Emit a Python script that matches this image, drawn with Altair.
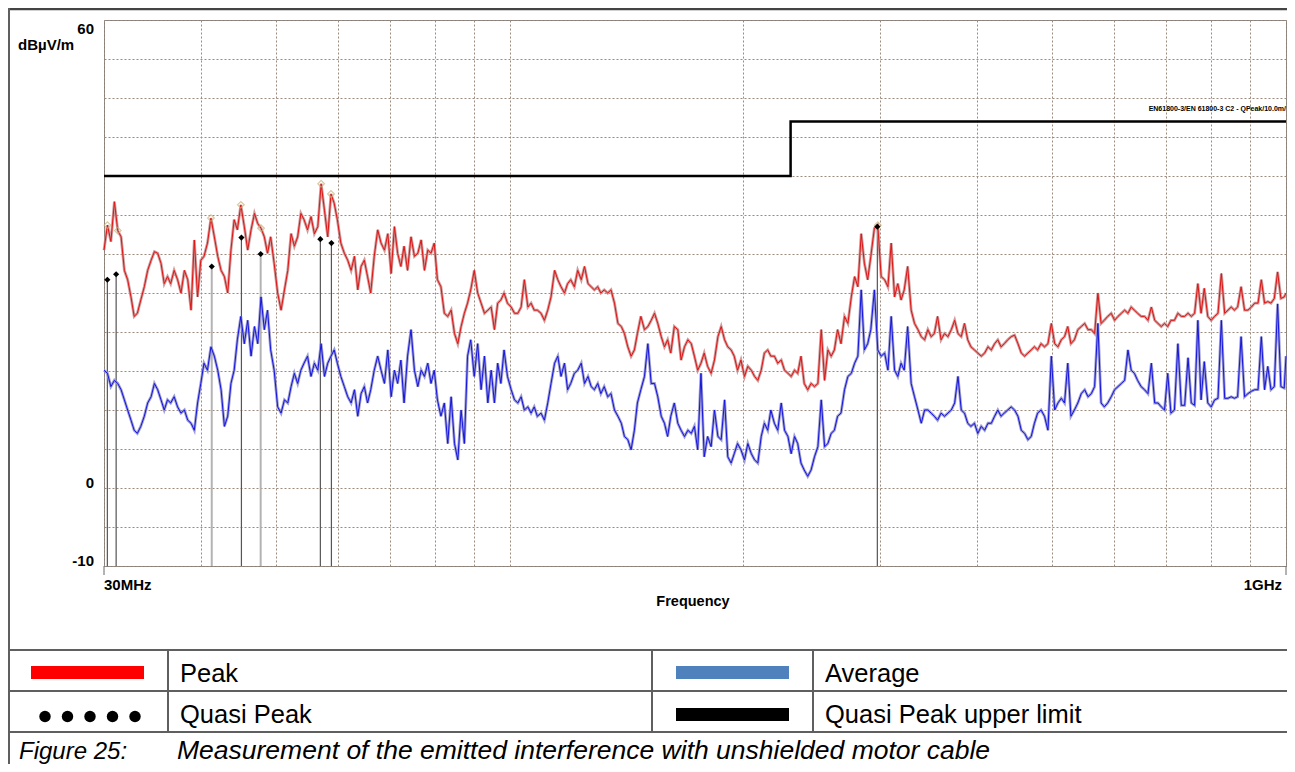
import altair as alt
import pandas as pd

# ---------------- data ----------------
FREQ_MHZ = [
    30.00, 30.31, 30.62, 30.94, 31.25, 31.56, 31.87, 32.18, 32.50, 32.81,
    33.12, 33.46, 33.81, 34.15, 34.50, 34.84, 35.18, 35.53, 35.87, 36.22,
    36.56, 36.94, 37.32, 37.70, 38.08, 38.46, 38.84, 39.22, 39.60, 39.98,
    40.36, 40.78, 41.20, 41.62, 42.04, 42.46, 42.88, 43.30, 43.72, 44.14,
    44.56, 45.02, 45.49, 45.95, 46.41, 46.88, 47.34, 47.80, 48.27, 48.73,
    49.19, 49.70, 50.22, 50.73, 51.24, 51.75, 52.26, 52.77, 53.29, 53.80,
    54.31, 54.87, 55.44, 56.00, 56.57, 57.13, 57.70, 58.26, 58.83, 59.39,
    59.95, 60.57, 61.20, 61.82, 62.45, 63.07, 63.69, 64.32, 64.94, 65.57,
    66.19, 66.88, 67.57, 68.25, 68.94, 69.63, 70.32, 71.01, 71.69, 72.38,
    73.07, 73.83, 74.59, 75.35, 76.11, 76.87, 77.63, 78.39, 79.15, 79.91,
    80.67, 81.51, 82.34, 83.18, 84.02, 84.86, 85.70, 86.54, 87.38, 88.21,
    89.05, 89.98, 90.90, 91.83, 92.75, 93.68, 94.61, 95.53, 96.46, 97.38,
    98.3, 99.3, 100.4, 101.4, 102.4, 103.4, 104.4, 105.5, 106.5, 107.5,
    108.5, 109.7, 110.8, 111.9, 113.0, 114.2, 115.3, 116.4, 117.6, 118.7,
    119.8, 121.1, 122.3, 123.6, 124.8, 126.1, 127.3, 128.5, 129.8, 131.0,
    132.3, 133.7, 135.0, 136.4, 137.8, 139.2, 140.5, 141.9, 143.3, 144.7,
    146.0, 147.5, 149.1, 150.6, 152.1, 153.6, 155.1, 156.7, 158.2, 159.7,
    161.2, 162.9, 164.6, 166.2, 167.9, 169.6, 171.3, 172.9, 174.6, 176.3,
    178.0, 179.8, 181.7, 183.5, 185.4, 187.2, 189.1, 190.9, 192.8, 194.6,
    196.5, 198.5, 200.6, 202.6, 204.7, 206.7, 208.7, 210.8, 212.8, 214.9,
    216.9, 219.2, 221.4, 223.7, 225.9, 228.2, 230.4, 232.7, 234.9, 237.2,
    239.5, 242.0, 244.4, 246.9, 249.4, 251.9, 254.4, 256.9, 259.4, 261.9,
    264.4, 267.1, 269.9, 272.6, 275.4, 278.1, 280.8, 283.6, 286.3, 289.1,
    291.8, 294.9, 297.9, 300.9, 304.0, 307.0, 310.0, 313.1, 316.1, 319.2,
    322.2, 325.5, 328.9, 332.2, 335.6, 338.9, 342.3, 345.6, 349.0, 352.3,
    355.7, 359.4, 363.1, 366.8, 370.5, 374.2, 377.9, 381.6, 385.3, 389.0,
    392.7, 396.8, 400.8, 404.9, 409.0, 413.1, 417.2, 421.3, 425.3, 429.4,
    433.5, 438.0, 442.5, 447.0, 451.5, 456.0, 460.5, 465.0, 469.6, 474.1,
    478.6, 483.5, 488.5, 493.5, 498.5, 503.5, 508.4, 513.4, 518.4, 523.4,
    528.3, 533.8, 539.3, 544.8, 550.3, 555.8, 561.3, 566.8, 572.3, 577.8,
    583.3, 589.3, 595.4, 601.4, 607.5, 613.6, 619.6, 625.7, 631.8, 637.8,
    643.9, 650.6, 657.3, 664.0, 670.7, 677.4, 684.0, 690.7, 697.4, 704.1,
    710.8, 718.2, 725.6, 733.0, 740.4, 747.8, 755.1, 762.5, 769.9, 777.3,
    784.7, 792.9, 801.0, 809.2, 817.3, 825.5, 833.7, 841.8, 850.0, 858.1,
    866.3, 875.3, 884.3, 893.3, 902.3, 911.4, 920.4, 929.4, 938.4, 947.4,
    956.4, 965.9, 975.4, 985.0, 994.8, 1000.0,
]

PEAK_DBUV = [
    30.5, 33.7, 31.6, 36.7, 33.0, 32.2, 27.9, 26.7, 24.5, 22.0,
    22.4, 24.1, 25.8, 27.9, 29.2, 30.3, 30.1, 28.8, 26.2, 27.1,
    26.2, 27.9, 26.7, 25.0, 27.9, 26.7, 22.8, 31.8, 24.5, 29.2,
    29.7, 31.4, 34.6, 32.2, 29.7, 27.9, 27.1, 25.0, 30.5, 34.4,
    33.1, 36.3, 33.5, 30.5, 33.1, 35.2, 33.9, 33.3, 32.2, 30.1,
    32.2, 28.8, 25.0, 22.8, 25.4, 27.9, 32.6, 31.0, 32.2, 35.2,
    34.4, 33.1, 34.8, 32.6, 33.5, 39.0, 35.6, 32.2, 37.7, 36.5,
    34.4, 31.4, 30.1, 29.2, 27.9, 29.7, 25.4, 28.4, 29.2, 27.1,
    25.0, 29.7, 33.1, 31.4, 30.5, 32.6, 27.5, 33.5, 30.1, 28.4,
    31.0, 27.9, 32.2, 29.7, 30.1, 31.8, 27.9, 30.5, 30.1, 31.4,
    26.7, 25.8, 22.4, 22.0, 22.8, 19.8, 18.5, 20.7, 22.4, 23.7,
    25.4, 27.9, 25.0, 23.7, 22.4, 22.8, 23.2, 20.3, 23.7, 24.1,
    25.0, 23.7, 23.2, 22.4, 22.4, 23.2, 26.7, 23.2, 23.7, 22.8,
    22.8, 22.4, 21.5, 22.8, 24.5, 27.9, 26.7, 25.8, 25.0, 26.2,
    26.7, 25.8, 27.9, 26.7, 28.4, 26.2, 25.8, 25.4, 25.8, 25.0,
    25.4, 25.0, 25.4, 23.7, 21.1, 20.7, 19.8, 18.1, 16.9, 17.7,
    19.8, 22.0, 20.3, 20.7, 21.5, 22.4, 21.1, 19.4, 18.1, 19.0,
    17.3, 20.7, 20.3, 16.4, 18.1, 19.0, 18.5, 16.9, 15.1, 16.0,
    17.3, 15.6, 14.7, 16.4, 19.4, 20.7, 19.0, 18.1, 17.7, 16.9,
    15.1, 16.4, 14.3, 15.6, 15.1, 14.3, 13.8, 15.1, 17.3, 17.7,
    16.9, 16.9, 16.0, 16.4, 15.1, 14.7, 14.3, 15.1, 14.7, 16.9,
    13.4, 12.6, 13.4, 13.0, 13.4, 20.3, 13.8, 17.7, 16.9, 17.7,
    20.3, 18.5, 22.0, 21.1, 24.5, 27.1, 25.8, 32.6, 28.8, 26.7,
    29.7, 33.3, 33.7, 27.1, 26.7, 25.8, 31.4, 24.5, 26.2, 24.1,
    25.4, 28.4, 22.8, 21.1, 20.3, 19.4, 19.0, 20.3, 19.4, 19.8,
    22.0, 19.0, 19.8, 19.4, 20.3, 21.5, 19.8, 19.4, 21.1, 19.0,
    18.1, 17.7, 17.3, 16.9, 17.3, 18.1, 17.7, 18.5, 19.0, 18.1,
    18.5, 19.0, 19.4, 19.6, 18.5, 17.3, 16.9, 17.3, 17.7, 18.1,
    17.7, 18.5, 18.1, 18.5, 21.1, 18.5, 18.1, 19.0, 19.4, 20.7,
    18.5, 19.0, 20.3, 20.7, 21.1, 20.3, 20.3, 19.8, 25.0, 21.1,
    21.5, 22.0, 22.4, 21.5, 22.0, 22.4, 22.8, 22.4, 23.2, 22.8,
    22.4, 22.0, 22.0, 21.5, 23.2, 21.5, 21.1, 20.7, 21.1, 20.7,
    21.5, 21.5, 22.4, 22.0, 22.0, 22.4, 22.0, 22.4, 26.2, 22.4,
    25.6, 22.0, 21.5, 22.0, 22.4, 27.5, 22.4, 22.8, 23.2, 22.8,
    23.2, 25.8, 22.8, 22.8, 23.2, 23.7, 23.7, 26.7, 23.7, 23.9,
    23.7, 24.3, 27.7, 24.3, 24.5, 25.0,
]

AVG_DBUV = [
    15.1, 14.7, 13.0, 13.8, 13.4, 12.6, 11.3, 10.0, 8.7, 7.4,
    7.0, 7.9, 9.2, 10.9, 11.7, 13.4, 12.6, 11.3, 10.0, 11.3,
    10.9, 11.7, 10.4, 9.6, 10.0, 8.7, 8.3, 7.4, 10.9, 13.4,
    16.0, 15.1, 18.1, 16.9, 15.1, 12.6, 7.9, 9.2, 13.4, 15.1,
    19.0, 22.0, 18.5, 21.5, 16.9, 20.7, 18.5, 24.5, 20.3, 22.8,
    17.7, 15.1, 10.4, 9.6, 11.3, 10.9, 13.0, 14.7, 13.4, 15.1,
    16.0, 16.9, 14.3, 16.0, 15.1, 18.5, 14.3, 16.0, 16.9, 17.7,
    16.0, 14.3, 13.0, 11.7, 10.9, 12.6, 9.2, 12.1, 13.0, 10.9,
    12.6, 15.1, 16.9, 15.1, 13.4, 17.7, 11.7, 15.1, 13.4, 16.4,
    10.9, 16.9, 20.3, 15.1, 13.0, 15.1, 14.3, 16.0, 13.4, 15.1,
    11.3, 9.2, 10.9, 5.7, 11.7, 5.7, 3.6, 10.0, 5.7, 16.9,
    19.0, 14.3, 18.5, 12.6, 16.9, 10.9, 15.1, 10.9, 16.0, 13.4,
    17.7, 14.3, 12.6, 11.3, 10.9, 11.7, 10.0, 10.4, 9.6, 10.4,
    9.2, 9.6, 8.7, 10.9, 13.4, 16.0, 16.9, 14.3, 16.0, 12.6,
    13.4, 14.7, 15.1, 16.0, 13.4, 14.3, 13.0, 12.6, 13.4, 12.1,
    13.0, 11.7, 12.1, 10.0, 9.2, 8.3, 6.6, 6.2, 4.9, 7.4,
    10.9, 12.6, 14.3, 18.5, 13.4, 13.4, 11.7, 9.2, 8.3, 6.6,
    9.2, 10.9, 8.3, 7.4, 6.6, 7.4, 7.0, 7.9, 4.9, 14.7,
    4.0, 6.6, 5.3, 10.0, 6.6, 6.2, 11.3, 4.0, 3.2, 4.4,
    5.7, 4.9, 3.6, 5.7, 4.4, 3.6, 3.2, 6.6, 8.3, 7.4,
    10.0, 8.3, 7.4, 10.9, 7.4, 6.6, 4.4, 6.6, 5.7, 3.2,
    2.3, 1.5, 2.3, 4.0, 5.3, 11.3, 5.3, 5.7, 7.0, 7.4,
    9.2, 9.6, 12.6, 14.3, 14.7, 16.0, 16.9, 25.4, 17.7, 18.5,
    20.3, 25.4, 17.7, 16.9, 17.3, 15.1, 22.0, 15.1, 14.3, 16.0,
    15.1, 20.7, 13.4, 11.7, 10.0, 8.3, 10.0, 10.0, 9.6, 9.2,
    8.7, 9.6, 9.2, 9.6, 10.0, 10.9, 14.3, 10.0, 9.6, 8.3,
    7.9, 8.3, 7.0, 7.9, 7.4, 8.3, 8.3, 9.2, 10.0, 9.2,
    9.6, 10.0, 10.4, 10.0, 9.2, 7.4, 7.0, 6.2, 6.6, 8.3,
    9.6, 10.0, 9.2, 7.4, 16.9, 10.0, 10.9, 11.5, 10.9, 16.0,
    9.2, 10.0, 10.9, 12.1, 12.6, 11.7, 12.1, 13.0, 21.1, 10.9,
    10.4, 10.9, 11.7, 12.6, 13.0, 13.4, 13.8, 17.7, 15.1, 14.7,
    13.8, 13.0, 12.6, 12.1, 16.0, 10.9, 10.9, 10.4, 10.0, 14.7,
    9.6, 10.0, 18.5, 10.6, 10.6, 16.7, 10.9, 10.6, 21.5, 11.3,
    16.2, 10.9, 10.4, 11.3, 11.5, 21.5, 11.5, 11.5, 11.7, 11.5,
    11.7, 19.4, 11.7, 12.1, 12.4, 12.6, 12.6, 19.4, 12.6, 15.6,
    12.6, 13.0, 23.6, 13.0, 12.8, 16.9,
]

QP_FREQ = [30.3, 31.1, 41.3, 45.1, 47.75, 57.0, 58.9, 297.5]
QP_LEVEL = [26.7, 27.4, 28.4, 32.1, 30.0, 31.9, 31.4, 33.5]
QP_STEM = ["dark", "dark", "light", "dark", "light", "dark", "dark", "dark"]

PK_MARK_FREQ = [30.31, 31.25, 41.20, 45.02, 47.80, 57.13, 58.83, 297.9]
PK_MARK_LEVEL = [33.7, 33.0, 34.6, 36.3, 33.3, 39.0, 37.7, 33.7]

LIMIT_FREQ = [30, 230, 1000]
LIMIT_LEVEL = [40, 47, 47]
LIMIT_LABEL = "EN61800-3/EN 61800-3 C2 - QPeak/10.0m/"

X_GRID = [30, 40, 50, 60, 70, 80, 90, 100, 200, 300, 400, 500, 600, 700, 800, 900, 1000]
Y_GRID = [-10, -5, 0, 5, 10, 15, 20, 25, 30, 35, 40, 45, 50, 55, 60]
Y_LABELS = [60, 0, -10]
X_LABEL_FREQ = [30, 1000]
X_LABEL_TEXT = ["30MHz", "1GHz"]

LEGEND_TEXT = ["Peak", "Average", "Quasi Peak", "Quasi Peak upper limit"]
CAPTION_NUM = "Figure 25:"
CAPTION_TEXT = "Measurement of the emitted interference with unshielded motor cable"

# ---------------- styling ----------------
W, H = 1182, 546
RIGHT_EDGE = 1183
FONT = "Liberation Sans"
GRID_COLOR = "#9c8a7c"
TABLE = "#5f5f5f"

x_scale = alt.Scale(type="log", domain=[30, 1000], nice=False)
y_scale = alt.Scale(domain=[-10, 60], nice=False, zero=False)
x_axis = alt.Axis(values=X_GRID, grid=True, gridColor=GRID_COLOR, gridDash=[2, 2],
                  gridWidth=1, labels=False, ticks=False, domain=False, title=None)
y_axis = alt.Axis(values=Y_GRID, grid=True, gridColor=GRID_COLOR, gridDash=[2, 2],
                  gridWidth=1, labels=False, ticks=False, domain=False, title=None)


def X(field="freq"):
    return alt.X(f"{field}:Q", scale=x_scale, axis=x_axis)


def Y(field="level"):
    return alt.Y(f"{field}:Q", scale=y_scale, axis=y_axis)


trace = pd.DataFrame({"freq": FREQ_MHZ, "peak": PEAK_DBUV, "avg": AVG_DBUV})
qp = pd.DataFrame({"freq": QP_FREQ, "level": QP_LEVEL, "stem": QP_STEM})
pkm = pd.DataFrame({"freq": PK_MARK_FREQ, "level": PK_MARK_LEVEL})
limit = pd.DataFrame({"freq": LIMIT_FREQ, "level": LIMIT_LEVEL})
limit_lab = pd.DataFrame({"freq": [LIMIT_FREQ[-1]], "level": [LIMIT_LEVEL[-1]], "label": [LIMIT_LABEL]})
ylab = pd.DataFrame({"level": Y_LABELS, "label": [str(v) for v in Y_LABELS]})
xlab = pd.DataFrame({"freq": X_LABEL_FREQ, "label": X_LABEL_TEXT})

layers = []

# limit line (also carries the grid)
layers.append(alt.Chart(limit).mark_line(interpolate="step-after", color="black", strokeWidth=2.5)
              .encode(x=X(), y=Y()))
layers.append(alt.Chart(limit_lab).mark_text(align="right", baseline="alphabetic", dy=-10,
                                             fontSize=7, fontWeight="bold", font=FONT, color="black")
              .encode(x=X(), y=Y(), text="label:N"))

# quasi-peak stems
layers.append(alt.Chart(qp).transform_filter(alt.datum.stem == "light")
              .mark_rule(color="#b3b3b3", strokeWidth=2)
              .encode(x=X(), y=Y(), y2=alt.value(H)))
layers.append(alt.Chart(qp).transform_filter(alt.datum.stem == "dark")
              .mark_rule(color="#555555", strokeWidth=1.2)
              .encode(x=X(), y=Y(), y2=alt.value(H)))

# average trace
layers.append(alt.Chart(trace).mark_line(color="#8e8ecb", strokeWidth=2.8, opacity=0.85).encode(x=X(), y=Y("avg")))
layers.append(alt.Chart(trace).mark_line(color="#1515dd", strokeWidth=1.0).encode(x=X(), y=Y("avg")))
# peak trace
layers.append(alt.Chart(trace).mark_line(color="#c98a8a", strokeWidth=2.8, opacity=0.85).encode(x=X(), y=Y("peak")))
layers.append(alt.Chart(trace).mark_line(color="#dd1515", strokeWidth=1.0).encode(x=X(), y=Y("peak")))

# markers
layers.append(alt.Chart(pkm).mark_point(shape="diamond", filled=False, size=45, color="#c8b27a", strokeWidth=1.2)
              .encode(x=X(), y=Y()))
layers.append(alt.Chart(qp).mark_point(shape="diamond", filled=True, size=38, color="black", opacity=1)
              .encode(x=X(), y=Y()))

# axis labels
layers.append(alt.Chart(ylab).transform_filter(alt.datum.level == 60)
              .mark_text(align="right", baseline="top", dy=2, fontSize=15, fontWeight="bold", font=FONT, color="black")
              .encode(x=alt.value(-10), y=Y(), text="label:N"))
layers.append(alt.Chart(ylab).transform_filter(alt.datum.level < 60)
              .mark_text(align="right", baseline="alphabetic", fontSize=15, fontWeight="bold", font=FONT, color="black")
              .encode(x=alt.value(-10), y=Y(), text="label:N"))
layers.append(alt.Chart(xlab).transform_filter(alt.datum.freq < 100)
              .mark_text(align="left", baseline="alphabetic", fontSize=15, fontWeight="bold", font=FONT, color="black")
              .encode(x=X(), y=alt.value(H + 24), text="label:N"))
layers.append(alt.Chart(xlab).transform_filter(alt.datum.freq > 100)
              .mark_text(align="right", baseline="alphabetic", dx=-4, fontSize=15, fontWeight="bold", font=FONT, color="black")
              .encode(x=X(), y=alt.value(H + 24), text="label:N"))
layers.append(alt.Chart(xlab).mark_rule(color="#666666", strokeWidth=1)
              .encode(x=X(), y=alt.value(H), y2=alt.value(H + 9)))

ONE = alt.Data(values=[{"row": 0}])


def label(text, x, y, size, align="left", weight="normal", style="normal", baseline="alphabetic"):
    return alt.Chart(ONE).mark_text(text=text, align=align, baseline=baseline, fontSize=size,
                                    fontWeight=weight, fontStyle=style, font=FONT, color="black"
                                    ).encode(x=alt.value(x), y=alt.value(y))


def hline(x1, x2, y, w=2, color=TABLE):
    return alt.Chart(ONE).mark_rule(color=color, strokeWidth=w).encode(
        x=alt.value(x1), x2=alt.value(x2), y=alt.value(y))


def vline(x, y1, y2, w=2, color=TABLE):
    return alt.Chart(ONE).mark_rule(color=color, strokeWidth=w).encode(
        x=alt.value(x), y=alt.value(y1), y2=alt.value(y2))


def box(x1, x2, y1, y2, color):
    return alt.Chart(ONE).mark_rect(color=color).encode(
        x=alt.value(x1), x2=alt.value(x2), y=alt.value(y1), y2=alt.value(y2))


layers.append(label("dBµV/m", -86, 30, 15, weight="bold"))
layers.append(label("Frequency", W / 2 - 2, H + 40, 14.5, align="center", weight="bold"))

# table frame
layers += [
    hline(-96, RIGHT_EDGE, -11, w=2.5, color="#444444"),
    vline(-95, -12, 760, w=2),
    hline(-96, RIGHT_EDGE, 630),
    hline(-96, RIGHT_EDGE, 671),
    hline(-96, RIGHT_EDGE, 712),
    vline(64, 630, 712),
    vline(548, 630, 712),
    vline(709, 630, 712),
]

# legend swatches
layers.append(box(-73, 40, 646, 659, "#ff0000"))
layers.append(box(572, 685, 646, 659, "#4f81bd"))
layers.append(box(572, 685, 688, 701, "#000000"))
for cx in [-59, -36.5, -14, 8.5, 31]:
    layers.append(alt.Chart(ONE).mark_circle(size=130, color="black", opacity=1)
                  .encode(x=alt.value(cx), y=alt.value(696.5)))

layers.append(label(LEGEND_TEXT[0], 76, 661.5, 25.5))
layers.append(label(LEGEND_TEXT[1], 721, 661.5, 25.5))
layers.append(label(LEGEND_TEXT[2], 76, 702.5, 25.5))
layers.append(label(LEGEND_TEXT[3], 721, 702.5, 25.5))
layers.append(label(CAPTION_NUM, -85, 739, 24, style="italic"))
layers.append(label(CAPTION_TEXT, 73, 739, 26.5, style="italic"))

chart = (
    alt.layer(*layers)
    .properties(
        width=W, height=H,
        autosize=alt.AutoSizeParams(type="none"),
        padding={"left": 96, "top": 12, "right": 1, "bottom": 198},
        background="white",
    )
    .configure_view(stroke="#808080", strokeWidth=1)
)

chart.save("out.html", embed_options={"renderer": "svg", "actions": False})
